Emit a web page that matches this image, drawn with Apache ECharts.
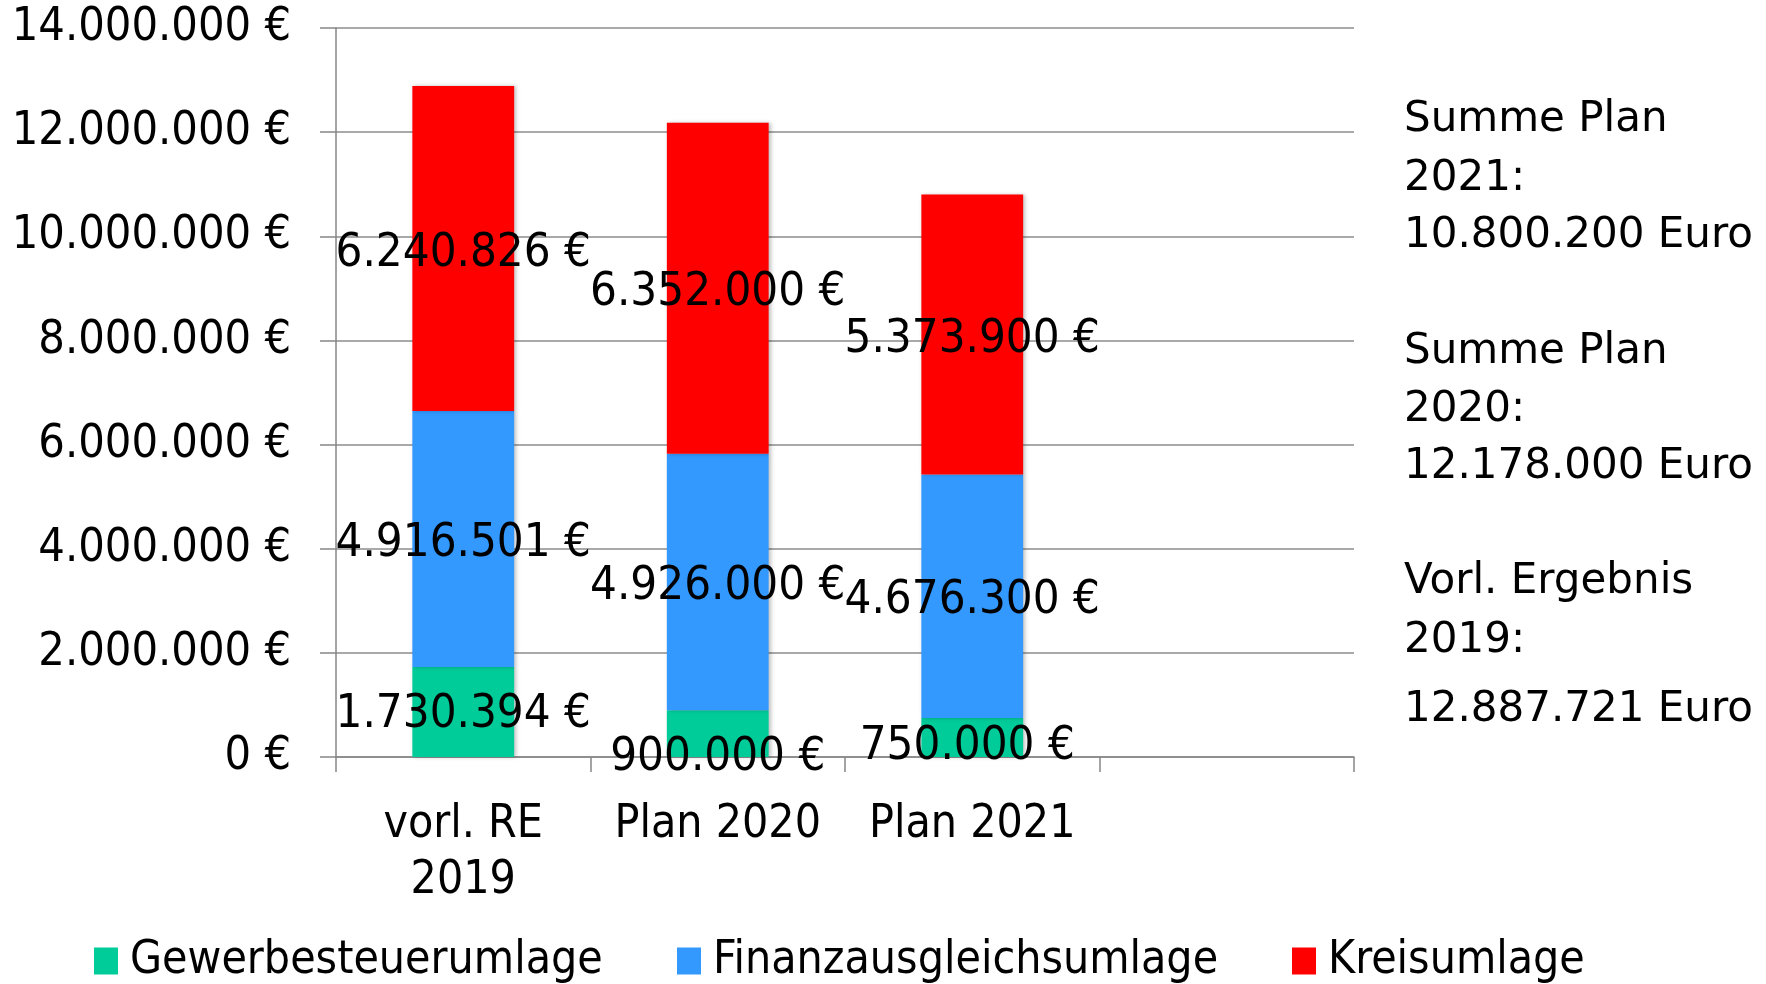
<!DOCTYPE html>
<html>
<head>
<meta charset="utf-8">
<script src="https://cdn.jsdelivr.net/npm/echarts@6/dist/echarts.min.js"></script>
<style>
html, body { margin: 0; background: #fff; }
#main { width: 1766px; height: 984px; }
</style>
</head>
<body>
<div id="main"></div>
<script>
// Daten
var categories = ['vorl. RE\n2019', 'Plan 2020', 'Plan 2021', ''];
var gewerbe = [1730394, 900000, 750000];
var finanz = [4916501, 4926000, 4676300];
var kreis = [6240826, 6352000, 5373900];
var yMin = 0, yMax = 14000000, yStep = 2000000;
var seriesNames = ['Gewerbesteuerumlage', 'Finanzausgleichsumlage', 'Kreisumlage'];
var notes = ['Summe Plan', '2021:', '10.800.200 Euro',
             'Summe Plan', '2020:', '12.178.000 Euro',
             'Vorl. Ergebnis', '2019:', '12.887.721 Euro'];

var colors = ['#00cc99', '#3399ff', '#ff0000'];
var font = '"DejaVu Sans Condensed", "DejaVu Sans", sans-serif';
// Lage der Texte rechts (y-Mitte je Zeile)
var noteY = [120, 179, 236, 352, 410, 467, 582, 641, 710];
// Verschiebung der Beschriftungen wie im Original
var baseOffset = [0, 5];
var greenOffsets = [[0, 3], [0, 24], [-5, 9]];

function euro(v) {
    return String(v).replace(/\B(?=(\d{3})+(?!\d))/g, '.') + ' €';
}

var myChart = echarts.init(document.getElementById('main'));

var barStyle = {
    shadowBlur: 4,
    shadowColor: 'rgba(0,0,0,0.25)',
    shadowOffsetX: 2
};

function makeLabel() {
    return {
        show: true,
        position: 'inside',
        offset: baseOffset,
        color: '#000',
        textBorderWidth: 0,
        fontFamily: font,
        fontSize: 47,
        formatter: function (p) { return euro(p.value); }
    };
}

function makeSeries(idx, values, offsets) {
    return {
        name: seriesNames[idx],
        type: 'bar',
        stack: 'gesamt',
        barWidth: '40%',
        itemStyle: Object.assign({ color: colors[idx] }, barStyle),
        label: makeLabel(),
        data: values.map(function (v, i) {
            var item = { value: v };
            if (offsets) item.label = { offset: offsets[i] };
            return item;
        })
    };
}

function makeLegend(name, left) {
    return {
        data: [name],
        left: left,
        top: 938,
        padding: 0,
        icon: 'rect',
        itemWidth: 24,
        itemHeight: 27,
        selectedMode: false,
        textStyle: {
            fontFamily: font,
            fontSize: 46,
            color: '#000',
            padding: [0, 0, 0, 7]
        }
    };
}

var graphics = notes.map(function (t, i) {
    return {
        type: 'text',
        x: 1404,
        y: noteY[i],
        style: {
            text: t,
            fill: '#000',
            font: '42px "DejaVu Sans", sans-serif',
            verticalAlign: 'middle'
        }
    };
});

var option = {
    animation: false,
    backgroundColor: '#fff',
    grid: { left: 336, right: 412, top: 28, bottom: 227 },
    legend: [
        makeLegend(seriesNames[0], 94),
        makeLegend(seriesNames[1], 677),
        makeLegend(seriesNames[2], 1292)
    ],
    xAxis: {
        type: 'category',
        data: categories,
        axisLine: { lineStyle: { color: '#868686', width: 1.5 } },
        axisTick: { show: true, length: 15, interval: 0, lineStyle: { color: '#868686', width: 1.5 } },
        axisLabel: {
            interval: 0,
            margin: 40,
            color: '#000',
            fontFamily: font,
            fontSize: 46,
            lineHeight: 56
        }
    },
    yAxis: {
        type: 'value',
        min: yMin,
        max: yMax,
        interval: yStep,
        axisLine: { show: true, lineStyle: { color: '#868686', width: 1.5 } },
        axisTick: { show: true, length: 16, lineStyle: { color: '#868686', width: 1.5 } },
        splitLine: { lineStyle: { color: '#8c8c8c', width: 1.5 } },
        axisLabel: {
            margin: 45,
            color: '#000',
            fontFamily: font,
            fontSize: 46.5,
            padding: [12, 0, 0, 0],
            formatter: euro
        }
    },
    graphic: graphics,
    series: [
        makeSeries(0, gewerbe, greenOffsets),
        makeSeries(1, finanz),
        makeSeries(2, kreis)
    ]
};

myChart.setOption(option);
</script>
</body>
</html>
